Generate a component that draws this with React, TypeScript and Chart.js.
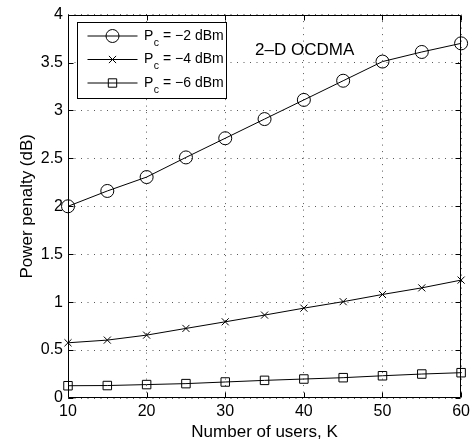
import React, { useEffect, useRef } from 'react';
import { Chart, registerables } from 'chart.js';

Chart.register(...registerables);

const users = [10, 15, 20, 25, 30, 35, 40, 45, 50, 55, 60];
const penaltyPcMinus2 = [2.0, 2.16, 2.305, 2.51, 2.71, 2.91, 3.11, 3.31, 3.51, 3.61, 3.7];
const penaltyPcMinus4 = [0.576, 0.604, 0.656, 0.726, 0.795, 0.865, 0.9375, 1.005, 1.08, 1.149, 1.23];
const penaltyPcMinus6 = [0.128, 0.13, 0.14, 0.15, 0.167, 0.184, 0.198, 0.212, 0.232, 0.25, 0.264];
const powerLabels = ['−2', '−4', '−6'];
const markerStyles = ['circle', 'crossRot', 'rect'];
const xTicks = [10, 20, 30, 40, 50, 60];
const yTicks = [0, 0.5, 1, 1.5, 2, 2.5, 3, 3.5, 4];
const annotationText = '2–D OCDMA';
const annotationPos = { x: 33.8, y: 3.63 };

const FONT = "'Liberation Sans', Arial, Helvetica, sans-serif";

function drawMarker(ctx: CanvasRenderingContext2D, style: string, x: number, y: number) {
  ctx.beginPath();
  if (style === 'circle') {
    ctx.arc(x, y, 6.5, 0, Math.PI * 2);
  } else if (style === 'crossRot') {
    const s = 3.6;
    ctx.moveTo(x - s, y - s);
    ctx.lineTo(x + s, y + s);
    ctx.moveTo(x - s, y + s);
    ctx.lineTo(x + s, y - s);
  } else {
    const s = 4.2;
    ctx.rect(x - s, y - s, 2 * s, 2 * s);
  }
  ctx.stroke();
}

const framePlugin = {
  id: 'frame',
  afterDatasetsDraw(chart: any) {
    const { ctx, chartArea } = chart;
    const { left, right, top, bottom } = chartArea;
    const xs = chart.scales.x;
    const ys = chart.scales.y;
    ctx.save();
    ctx.strokeStyle = '#000';
    ctx.lineWidth = 1;
    const L = Math.round(left) + 0.5;
    const R = Math.round(right) - 0.5;
    const T = Math.round(top) + 0.5;
    const B = Math.round(bottom) - 0.5;
    ctx.beginPath();
    ctx.rect(L, T, R - L, B - T);
    ctx.stroke();
    const tl = 5;
    ctx.beginPath();
    xTicks.forEach((v) => {
      const px = Math.round(xs.getPixelForValue(v)) + 0.5;
      ctx.moveTo(px, B);
      ctx.lineTo(px, B - tl);
      ctx.moveTo(px, T);
      ctx.lineTo(px, T + tl);
    });
    yTicks.forEach((v) => {
      const py = Math.round(ys.getPixelForValue(v)) + 0.5;
      ctx.moveTo(L, py);
      ctx.lineTo(L + tl, py);
      ctx.moveTo(R, py);
      ctx.lineTo(R - tl, py);
    });
    ctx.stroke();

    // annotation
    ctx.fillStyle = '#000';
    ctx.font = `17px ${FONT}`;
    ctx.textAlign = 'left';
    ctx.textBaseline = 'middle';
    ctx.fillText(annotationText, xs.getPixelForValue(annotationPos.x), ys.getPixelForValue(annotationPos.y));

    // legend
    const bx = Math.round(left) + 9.5;
    const by = Math.round(top) + 7.5;
    const bw = 149;
    const bh = 76;
    ctx.fillStyle = '#fff';
    ctx.fillRect(bx, by, bw, bh);
    ctx.strokeStyle = '#000';
    ctx.strokeRect(bx, by, bw, bh);
    const rowY = [by + 13.5, by + 37, by + 60.5];
    powerLabels.forEach((p, i) => {
      const yy = rowY[i];
      ctx.beginPath();
      ctx.moveTo(bx + 10, yy);
      ctx.lineTo(bx + 60, yy);
      ctx.stroke();
      drawMarker(ctx, markerStyles[i], bx + 35, yy);
      ctx.fillStyle = '#000';
      ctx.textBaseline = 'middle';
      ctx.textAlign = 'left';
      let tx = bx + 66.5;
      ctx.font = `14px ${FONT}`;
      ctx.fillText('P', tx, yy);
      tx += ctx.measureText('P').width + 0.5;
      ctx.font = `10.5px ${FONT}`;
      ctx.fillText('c', tx, yy + 7);
      tx += ctx.measureText('c').width;
      ctx.font = `14px ${FONT}`;
      ctx.fillText(` = ${p} dBm`, tx, yy);
    });
    ctx.restore();
  },
};

export default function App() {
  const canvasRef = useRef<HTMLCanvasElement | null>(null);

  useEffect(() => {
    const canvas = canvasRef.current;
    if (!canvas) return;
    const makeDs = (label: string, data: number[], style: string, radius: number) => ({
      label,
      data: users.map((u, i) => ({ x: u, y: data[i] })),
      borderColor: '#000',
      backgroundColor: 'rgba(0,0,0,0)',
      borderWidth: 1,
      pointStyle: style,
      pointRadius: radius,
      pointBorderColor: '#000',
      pointBackgroundColor: 'rgba(0,0,0,0)',
      pointBorderWidth: 1,
      tension: 0,
      clip: false,
    });
    const chart = new Chart(canvas, {
      type: 'line',
      data: {
        datasets: [
          makeDs('Pc = −2 dBm', penaltyPcMinus2, 'circle', 6.5),
          makeDs('Pc = −4 dBm', penaltyPcMinus4, 'crossRot', 5),
          makeDs('Pc = −6 dBm', penaltyPcMinus6, 'rect', 6),
        ],
      },
      plugins: [framePlugin],
      options: {
        responsive: false,
        animation: false,
        layout: { padding: { left: 0, right: 9, top: 14, bottom: 0 } },
        plugins: { legend: { display: false }, tooltip: { enabled: false } },
        scales: {
          x: {
            type: 'linear',
            min: 10,
            max: 60,
            afterBuildTicks: (scale: any) => {
              scale.ticks = xTicks.map((v) => ({ value: v }));
            },
            afterFit: (scale: any) => {
              scale.height = 45;
            },
            ticks: {
              color: '#000',
              font: { family: FONT, size: 16 },
              padding: 4,
              maxRotation: 0,
              autoSkip: false,
              callback: (v: any) => String(v),
            },
            grid: { color: 'rgba(0,0,0,0.65)', lineWidth: 1, drawTicks: false },
            border: { display: false, dash: [1, 5.5] },
            title: {
              display: true,
              text: 'Number of users, K',
              color: '#000',
              font: { family: FONT, size: 17 },
              padding: { top: 0, bottom: 0 },
            },
          },
          y: {
            type: 'linear',
            min: 0,
            max: 4,
            afterBuildTicks: (scale: any) => {
              scale.ticks = yTicks.map((v) => ({ value: v }));
            },
            afterFit: (scale: any) => {
              scale.width = 68;
            },
            ticks: {
              color: '#000',
              font: { family: FONT, size: 16 },
              padding: 5,
              autoSkip: false,
              callback: (v: any) => String(v),
            },
            grid: { color: 'rgba(0,0,0,0.65)', lineWidth: 1, drawTicks: false },
            border: { display: false, dash: [1, 5.5] },
            title: {
              display: true,
              text: 'Power penalty (dB)',
              color: '#000',
              font: { family: FONT, size: 17 },
              padding: { top: 17, bottom: 0 },
            },
          },
        },
      },
    } as any);
    return () => chart.destroy();
  }, []);

  return (
    <div style={{ position: 'absolute', left: 0, top: 0, width: 474, height: 443, background: '#fff' }}>
      <canvas ref={canvasRef} width={474} height={443} style={{ display: 'block' }} />
    </div>
  );
}
